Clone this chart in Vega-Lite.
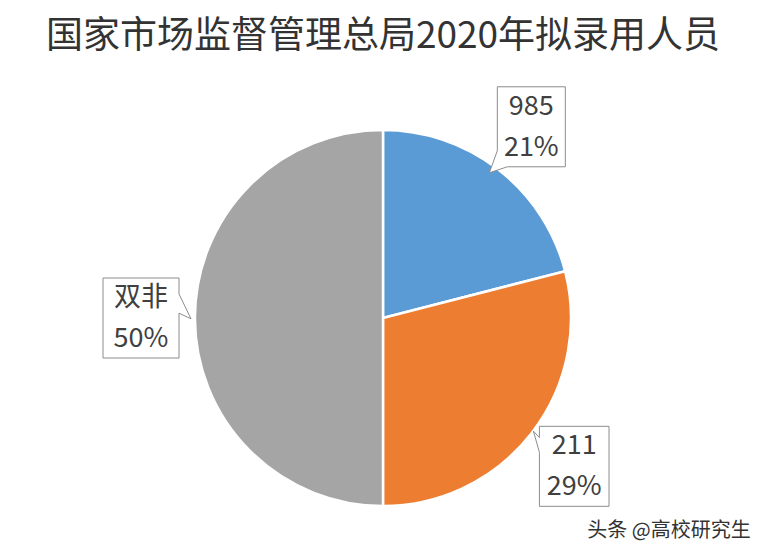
{
  "$schema": "https://vega.github.io/schema/vega-lite/v6.json",
  "width": 766,
  "height": 470,
  "padding": {"top": 18, "left": 0, "right": 0, "bottom": 0},
  "background": "white",
  "title": {
    "text": "国家市场监督管理总局2020年拟录用人员",
    "font": "Noto Sans CJK SC",
    "fontSize": 37,
    "fontWeight": "normal",
    "color": "#333333",
    "anchor": "middle",
    "frame": "group",
    "offset": 27
  },
  "config": {"view": {"stroke": null}},
  "data": {
    "values": [
      {"idx": 1, "category": "985", "value": 21, "pct": "21%"},
      {"idx": 2, "category": "211", "value": 29, "pct": "29%"},
      {"idx": 3, "category": "双非", "value": 50, "pct": "50%"}
    ]
  },
  "layer": [
    {
      "mark": {"type": "arc", "outerRadius": 188, "stroke": "white", "strokeWidth": 2.5},
      "encoding": {
        "theta": {"field": "value", "type": "quantitative", "stack": true},
        "order": {"field": "idx", "type": "quantitative"},
        "color": {
          "field": "category",
          "type": "nominal",
          "scale": {"domain": ["985", "211", "双非"], "range": ["#5B9BD5", "#ED7D31", "#A5A5A5"]},
          "legend": null
        }
      }
    },
    {
      "transform": [
        {"stack": "value", "groupby": [], "sort": [{"field": "idx"}], "as": ["s0", "s1"]},
        {"calculate": "PI*(datum.s0+datum.s1)/100", "as": "mid"},
        {"calculate": "242*sin(datum.mid)", "as": "bx"},
        {"calculate": "242*cos(datum.mid)", "as": "by"}
      ],
      "encoding": {
        "x": {"field": "bx", "type": "quantitative", "scale": {"domain": [-383, 383], "nice": false, "zero": false}, "axis": null},
        "y": {"field": "by", "type": "quantitative", "scale": {"domain": [-235, 235], "nice": false, "zero": false}, "axis": null}
      },
      "layer": [
        {
          "transform": [{"filter": "datum.idx == 1"}],
          "mark": {"type": "point", "shape": "M-0.85,-1H0.85V1H-0.6L-1.05,1.15L-0.85,0.6Z", "size": 6400, "filled": true, "fill": "white", "stroke": "#8c8c8c", "strokeWidth": 1, "opacity": 1}
        },
        {
          "transform": [{"filter": "datum.idx == 2"}],
          "mark": {"type": "point", "shape": "M-0.87,-1H0.87V1H-0.87V-0.35L-1.02,-0.88L-0.87,-0.72Z", "size": 6400, "filled": true, "fill": "white", "stroke": "#8c8c8c", "strokeWidth": 1, "opacity": 1}
        },
        {
          "transform": [{"filter": "datum.idx == 3"}],
          "mark": {"type": "point", "shape": "M-0.95,-1H0.95V-0.6L1.25,0.02L0.95,-0.12V1H-0.95Z", "size": 6400, "filled": true, "fill": "white", "stroke": "#8c8c8c", "strokeWidth": 1, "opacity": 1}
        },
        {
          "mark": {"type": "text", "font": "Noto Sans CJK SC", "fontSize": 27, "color": "#404040", "dy": -20},
          "encoding": {"text": {"field": "category"}}
        },
        {
          "mark": {"type": "text", "font": "Noto Sans CJK SC", "fontSize": 27, "color": "#404040", "dy": 21},
          "encoding": {"text": {"field": "pct"}}
        }
      ]
    },
    {
      "data": {"values": [{"note": "头条 @高校研究生", "nx": 286, "ny": -213}]},
      "mark": {"type": "text", "font": "Noto Sans CJK SC", "fontSize": 20, "color": "#333333"},
      "encoding": {
        "x": {"field": "nx", "type": "quantitative", "scale": {"domain": [-383, 383], "nice": false, "zero": false}, "axis": null},
        "y": {"field": "ny", "type": "quantitative", "scale": {"domain": [-235, 235], "nice": false, "zero": false}, "axis": null},
        "text": {"field": "note"}
      }
    }
  ]
}
